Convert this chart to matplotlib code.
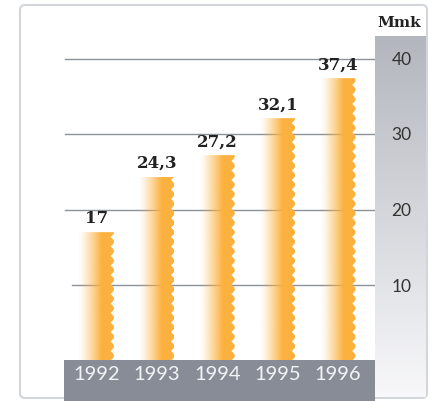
import numpy as np
import matplotlib
matplotlib.use('Agg')
import matplotlib.pyplot as plt
from matplotlib.patches import Polygon, FancyBboxPatch, Rectangle
from matplotlib.colors import to_rgb

# chart data
years = ['1992', '1993', '1994', '1995', '1996']
values = [17, 24.3, 27.2, 32.1, 37.4]
value_labels = ['17', '24,3', '27,2', '32,1', '37,4']
y_ticks = [10, 20, 30, 40]
unit_label = 'Mmk'

W, H = 435, 401
ORANGE = '#fcb13f'
BAND = '#878c96'
GRID = '#8d9199'

fig = plt.figure(figsize=(W / 100, H / 100), dpi=100)
fig.patch.set_facecolor('white')

# rounded outer frame
frame = FancyBboxPatch((20 / W, 1 - 398 / H), 407 / W, 393 / H,
                       boxstyle='round,pad=0,rounding_size=0.012',
                       transform=fig.transFigure, facecolor='white',
                       edgecolor='#d2d5da', linewidth=1.5, zorder=-2)
fig.patches.append(frame)

# gray gradient panel behind the value axis
pax = fig.add_axes([375 / W, 1 - 397 / H, 51 / W, 361 / H])
top_c = np.array(to_rgb('#b3b6be'))
bot_c = np.array(to_rgb('#f8f8fa'))
t = np.linspace(0, 1, 256)[:, None]
grad = top_c * (1 - t) + bot_c * t
pax.imshow(grad[:, None, :].repeat(2, axis=1), aspect='auto', extent=[0, 1, 0, 1])
pax.set_axis_off()

# dark band under the bars
fig.patches.append(Rectangle((64 / W, 0), 311 / W, 41 / H, transform=fig.transFigure,
                             facecolor=BAND, edgecolor='none', zorder=-1))

# main plotting axes (value 0 sits on the band)
px_per_unit = 7.55
ymax = 46
ax = fig.add_axes([64 / W, (H - 360.5) / H, 311 / W, ymax * px_per_unit / H])
ax.patch.set_alpha(0)

slot = 60.4
xlo = (64 - 96.5) / slot
xhi = (375 - 96.5) / slot

# gridlines
for yt in y_ticks:
    start = 0.026 if yt == 10 else 0.003
    ax.axhline(yt, xmin=start, xmax=1, color=GRID, lw=1, zorder=1)

# bars: orange gradient with a scalloped right edge
bw = 35 / slot
amp = 3.5 / slot
per = 9.5 / px_per_unit
ocol = np.array(to_rgb(ORANGE))
tx = np.linspace(0, 1, 200)
alpha = np.clip(tx / 0.65, 0, 1) ** 1.2
alpha = np.maximum(alpha, 0.03)
rgba = np.zeros((2, 200, 4))
rgba[..., :3] = ocol
rgba[..., 3] = alpha

for i, v in enumerate(values):
    x0 = i - bw / 2
    x1 = i + bw / 2 - amp
    ys = np.linspace(0, v, 300)
    right = [(x1 + amp * abs(np.sin(np.pi * y / per)), y) for y in ys]
    poly = Polygon([(x0, 0)] + right + [(x0, v)], closed=True,
                   facecolor='none', edgecolor='none', transform=ax.transData)
    ax.add_patch(poly)
    im = ax.imshow(rgba, extent=[x0, x1 + amp, 0, v], aspect='auto', zorder=2,
                   interpolation='bilinear')
    im.set_clip_path(poly)
    ax.annotate(value_labels[i], (i, v), xytext=(0, 6.5), textcoords='offset points',
                ha='center', va='baseline', fontsize=12, fontweight='bold',
                family='DejaVu Serif', color='#222222', zorder=3)
    ax.text(i, -1.9, years[i], ha='center', va='center', fontsize=14.5,
            family='Lato', color='#f2f3f5', clip_on=False, zorder=4)

ax.set_xlim(xlo, xhi)
ax.set_ylim(0, ymax)
ax.set_xticks([])
ax.yaxis.tick_right()
ax.set_yticks(y_ticks)
ax.set_yticklabels([str(v) for v in y_ticks], family='Lato', fontsize=12.5, color='#333333')
for lab in ax.get_yticklabels():
    lab.set_horizontalalignment('center')
ax.tick_params(axis='y', length=0, pad=19)
for s in ax.spines.values():
    s.set_visible(False)

fig.text(399 / W, 1 - 23 / H, unit_label, ha='center', va='center', fontsize=11,
         fontweight='bold', family='DejaVu Serif', color='#222222')

fig.savefig('out.png', dpi=100)
